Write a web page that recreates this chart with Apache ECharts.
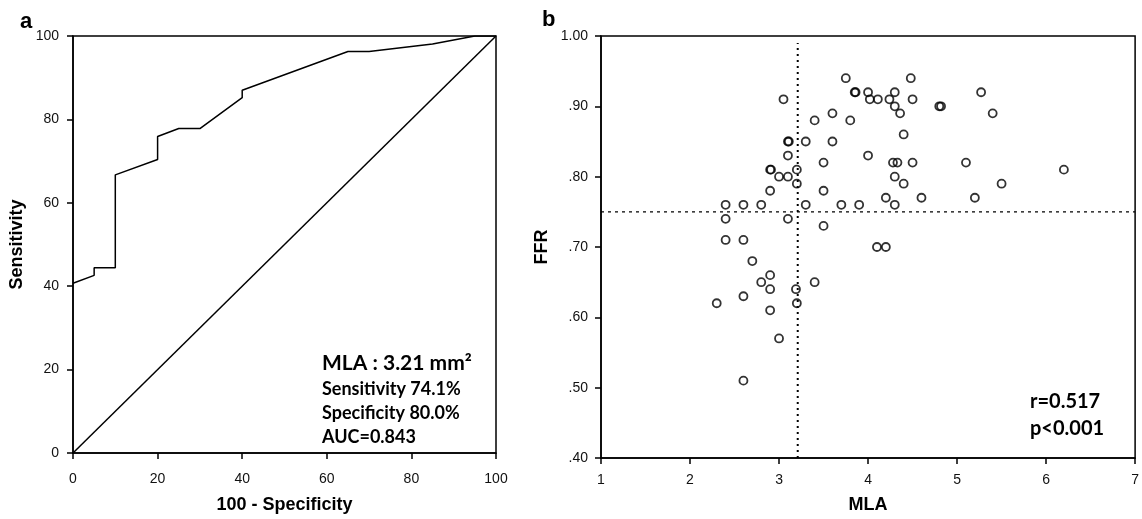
<!DOCTYPE html>
<html>
<head>
<meta charset="utf-8">
<script src="https://cdn.jsdelivr.net/npm/echarts@6/dist/echarts.min.js"></script>
<style>
  html, body { margin: 0; padding: 0; background: #fff; }
  #main { width: 1142px; height: 519px; }
</style>
</head>
<body>
<div id="main"></div>
<script>
// panel a - ROC curve (100 - specificity, sensitivity)
var rocX = [0, 5, 5, 10, 10, 20, 20, 25, 30, 40, 40, 65, 70, 85, 95, 100];
var rocY = [40.7, 42.6, 44.4, 44.4, 66.7, 70.4, 75.9, 77.8, 77.8, 85.2, 87.0, 96.3, 96.3, 98.1, 100, 100];
var refX = [0, 100];
var refY = [0, 100];

// panel b - MLA vs FFR
var mla = [3.05, 3.75, 3.85, 3.86, 3.4, 3.6, 3.8, 3.1, 3.11, 3.3, 3.6, 3.1, 3.5, 2.9, 2.91, 3.2,
  3.0, 3.1, 3.2, 2.9, 3.5, 2.4, 2.6, 2.8, 3.3, 3.7, 3.9, 4.48, 4.0, 4.3, 5.27, 4.02,
  4.11, 4.24, 4.5, 4.3, 4.8, 4.82, 4.36, 5.4, 4.4, 4.0, 4.28, 4.33, 4.5, 5.1, 6.2, 4.3,
  4.4, 5.5, 4.2, 4.6, 5.2, 4.3, 2.4, 3.1, 3.5, 2.4, 2.6, 2.7, 2.9, 2.8, 3.4, 2.9,
  3.19, 2.6, 2.3, 3.2, 2.9, 3.0, 2.6, 4.1, 4.2];
var ffr = [0.91, 0.94, 0.92, 0.92, 0.88, 0.89, 0.88, 0.85, 0.85, 0.85, 0.85, 0.83, 0.82, 0.81, 0.81, 0.81,
  0.80, 0.80, 0.79, 0.78, 0.78, 0.76, 0.76, 0.76, 0.76, 0.76, 0.76, 0.94, 0.92, 0.92, 0.92, 0.91,
  0.91, 0.91, 0.91, 0.90, 0.90, 0.90, 0.89, 0.89, 0.86, 0.83, 0.82, 0.82, 0.82, 0.82, 0.81, 0.80,
  0.79, 0.79, 0.77, 0.77, 0.77, 0.76, 0.74, 0.74, 0.73, 0.71, 0.71, 0.68, 0.66, 0.65, 0.65, 0.64,
  0.64, 0.63, 0.62, 0.62, 0.61, 0.57, 0.51, 0.70, 0.70];
var cutoffMla = 3.21;
var cutoffFfr = 0.75;
var vLineY = [0.40, 0.99];
var hLineX = [1, 7];

var tickFont = 'Liberation Sans, Arial, sans-serif';
var noteFont = 'Lato, Open Sans, sans-serif';

var rocData = rocX.map(function (x, i) { return [x, rocY[i]]; });
var refData = refX.map(function (x, i) { return [x, refY[i]]; });
var scatterData = mla.map(function (x, i) { return [x, ffr[i]]; });

function axisBase(labelMargin) {
  return {
    axisLine: { show: true, lineStyle: { color: '#000', width: 1.5 } },
    axisTick: { show: true, length: 6, lineStyle: { color: '#000', width: 1.5 } },
    axisLabel: { color: '#111', fontSize: 14, fontFamily: tickFont, margin: labelMargin },
    splitLine: { show: false },
    nameTextStyle: { color: '#000', fontSize: 18, fontWeight: 'bold', fontFamily: tickFont }
  };
}

var chart = echarts.init(document.getElementById('main'));
var option = {
  backgroundColor: '#fff',
  animation: false,
  grid: [
    { left: 73, top: 36, width: 423, height: 423, show: true, borderColor: '#000', borderWidth: 1.5 },
    { left: 601, top: 36, width: 540, height: 426, show: true, borderColor: '#000', borderWidth: 1.5 }
  ],
  xAxis: [
    Object.assign(axisBase(19), {
      gridIndex: 0, type: 'value', min: 0, max: 100, interval: 20,
      name: '100 - Specificity', nameLocation: 'middle', nameGap: 43
    }),
    Object.assign(axisBase(15), {
      gridIndex: 1, type: 'value', min: 1, max: 7, interval: 1,
      name: 'MLA', nameLocation: 'middle', nameGap: 38
    })
  ],
  yAxis: [
    Object.assign(axisBase(14), {
      gridIndex: 0, type: 'value', min: 0, max: 100, interval: 20,
      name: 'Sensitivity', nameLocation: 'middle', nameGap: 47
    }),
    Object.assign(axisBase(13), {
      gridIndex: 1, type: 'value', min: 0.4, max: 1.0, interval: 0.1,
      name: 'FFR', nameLocation: 'middle', nameGap: 50,
      axisLabel: {
        color: '#111', fontSize: 14, fontFamily: tickFont, margin: 13,
        formatter: function (v) { return v >= 1 ? '1.00' : v.toFixed(2).replace(/^0/, ''); }
      }
    })
  ],
  series: [
    {
      type: 'line', xAxisIndex: 0, yAxisIndex: 0, data: rocData,
      showSymbol: false, symbol: 'none',
      lineStyle: { color: '#000', width: 1.5 }
    },
    {
      type: 'line', xAxisIndex: 0, yAxisIndex: 0, data: refData,
      showSymbol: false, symbol: 'none',
      lineStyle: { color: '#000', width: 1.5 }
    },
    {
      type: 'line', xAxisIndex: 1, yAxisIndex: 1,
      data: hLineX.map(function (x) { return [x, cutoffFfr]; }),
      symbol: 'none',
      lineStyle: { color: '#000', width: 1.3, type: [3, 4] }
    },
    {
      type: 'line', xAxisIndex: 1, yAxisIndex: 1,
      data: vLineY.map(function (y) { return [cutoffMla, y]; }),
      symbol: 'none',
      lineStyle: { color: '#000', width: 2, type: [2, 4] }
    },
    {
      type: 'scatter', xAxisIndex: 1, yAxisIndex: 1, data: scatterData,
      symbol: 'circle', symbolSize: 8,
      itemStyle: { color: 'rgba(0,0,0,0)', borderColor: '#000', borderWidth: 1.8 }
    }
  ],
  graphic: [
    { type: 'text', left: 20, top: 11, style: { text: 'a', font: 'bold 22px ' + tickFont, fill: '#000' } },
    { type: 'text', left: 542, top: 9, style: { text: 'b', font: 'bold 22px ' + tickFont, fill: '#000' } },
    { type: 'text', left: 322, top: 353, style: { text: 'MLA : 3.21 mm²', font: 'bold 21px ' + noteFont, fill: '#000' } },
    { type: 'text', left: 322, top: 380, style: { text: 'Sensitivity 74.1%', font: 'bold 18px ' + noteFont, fill: '#000' } },
    { type: 'text', left: 322, top: 404, style: { text: 'Specificity 80.0%', font: 'bold 18px ' + noteFont, fill: '#000' } },
    { type: 'text', left: 322, top: 428, style: { text: 'AUC=0.843', font: 'bold 18px ' + noteFont, fill: '#000' } },
    { type: 'text', left: 1030, top: 392, style: { text: 'r=0.517', font: 'bold 20px ' + noteFont, fill: '#000' } },
    { type: 'text', left: 1030, top: 419, style: { text: 'p<0.001', font: 'bold 20px ' + noteFont, fill: '#000' } }
  ]
};
chart.setOption(option);
</script>
</body>
</html>
